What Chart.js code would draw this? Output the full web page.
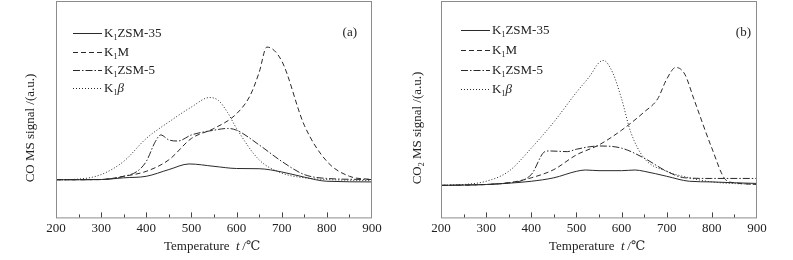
<!DOCTYPE html>
<html>
<head>
<meta charset="utf-8">
<script src="https://cdn.jsdelivr.net/npm/chart.js@4.4.0/dist/chart.umd.min.js"></script>
<style>
  body { margin: 0; background: #fff; width: 793px; height: 260px; overflow: hidden; position: relative; }
  canvas { position: absolute; top: 0; }
</style>
</head>
<body>
<canvas id="chartA" width="393" height="260" style="left:0"></canvas>
<canvas id="chartB" width="400" height="260" style="left:393px"></canvas>
<script>
// x ticks (temperature, °C)
const tempTicks = [200, 300, 400, 500, 600, 700, 800, 900]
const seriesNames = ['ZSM-35', 'M', 'ZSM-5', 'β']

// (a) CO signal, arbitrary units
const coZsm35T = [200, 300, 350, 400, 450, 495, 550, 600, 650, 700, 750, 800, 900]
const coZsm35 = [17.4, 17.5, 18.3, 19.0, 22.1, 24.7, 23.6, 22.6, 22.5, 21.0, 18.6, 16.7, 16.4]
const coMT = [200, 300, 350, 400, 450, 500, 550, 600, 630, 650, 667, 700, 750, 800, 850, 900]
const coM = [17.4, 17.5, 19.0, 21.3, 26.6, 36.5, 41.1, 47.9, 56.3, 67.0, 78.7, 72.3, 42.6, 25.9, 19.0, 17.5]
const coZsm5T = [200, 300, 350, 380, 400, 420, 432, 450, 470, 500, 550, 580, 600, 650, 700, 750, 800, 900]
const coZsm5 = [17.4, 17.5, 19.0, 21.3, 25.9, 35.0, 38.1, 35.8, 35.3, 38.1, 40.3, 41.1, 40.3, 33.5, 25.9, 19.8, 18.0, 17.5]
const coBetaT = [200, 250, 300, 350, 400, 450, 500, 540, 560, 580, 600, 650, 700, 750, 800, 900]
const coBeta = [17.4, 17.7, 19.8, 25.9, 36.5, 44.1, 51.0, 55.4, 54.0, 48.5, 41.1, 26.6, 20.5, 18.3, 17.5, 17.0]

// (b) CO2 signal
const co2Zsm35T = [200, 300, 350, 400, 450, 500, 520, 550, 600, 630, 650, 700, 750, 800, 850, 900]
const co2Zsm35 = [14.8, 15.2, 15.8, 16.7, 18.3, 21.3, 21.9, 21.6, 21.6, 21.9, 21.3, 19.0, 16.7, 16.4, 16.0, 15.7]
const co2MT = [200, 300, 350, 400, 450, 500, 550, 600, 650, 680, 700, 720, 740, 760, 800, 830, 850, 900]
const co2M = [14.8, 15.2, 16.0, 18.3, 22.1, 28.9, 33.5, 40.3, 48.7, 54.8, 63.9, 69.3, 66.2, 54.8, 32.0, 17.5, 16.0, 15.2]
const co2Zsm5T = [200, 350, 400, 430, 440, 480, 500, 550, 600, 650, 700, 740, 800, 900]
const co2Zsm5 = [14.8, 16.0, 19.8, 30.4, 30.7, 30.4, 31.5, 33.0, 32.0, 27.4, 21.3, 18.3, 18.0, 18.0]
const co2BetaT = [200, 250, 300, 350, 400, 450, 500, 530, 550, 560, 580, 600, 620, 650, 700, 750, 800, 900]
const co2Beta = [14.8, 15.2, 16.7, 21.3, 32.0, 44.1, 57.8, 65.4, 71.5, 72.5, 67.0, 54.8, 39.6, 27.4, 21.3, 18.3, 16.4, 15.2]

const SERIF = '"Liberation Serif", "DejaVu Serif", serif'
const dashes = [[], [5, 3], [7, 2, 1.5, 2], [1, 2]]
const lineCol = '#2a2a2a'

const pts = (xs, ys) => xs.map((x, i) => ({ x: x, y: ys[i] }))

const makeSets = (pairs) => pairs.map((p, i) => ({
  label: seriesNames[i],
  data: pts(p[0], p[1]),
  borderColor: lineCol,
  borderWidth: 1,
  borderDash: dashes[i],
  pointRadius: 0,
  cubicInterpolationMode: 'monotone',
  fill: false
}))

// frame, inward ticks, legend and titles
const decor = (panel, yLabelSub, legendX, legendYs, tag, tagRight, yTitleX) => ({
  id: 'decor' + panel,
  afterDraw(chart) {
    const ctx = chart.ctx
    const a = chart.chartArea
    const xs = chart.scales.x
    ctx.save()
    ctx.strokeStyle = '#8c8c8c'
    ctx.lineWidth = 1
    ctx.setLineDash([])
    ctx.strokeRect(a.left + 0.5, a.top + 0.5, a.right - a.left - 1, a.bottom - a.top)
    // inward ticks
    ctx.strokeStyle = '#444'
    for (let t = 250; t < 900; t += 50) {
      const px = Math.round(xs.getPixelForValue(t)) + 0.5
      const len = t % 100 === 0 ? 5 : 3
      ctx.beginPath()
      ctx.moveTo(px, a.bottom)
      ctx.lineTo(px, a.bottom - len)
      ctx.stroke()
    }
    // legend
    ctx.fillStyle = '#222'
    ctx.textBaseline = 'middle'
    seriesNames.forEach((name, i) => {
      const y = legendYs[i] + 0.5
      ctx.strokeStyle = lineCol
      ctx.setLineDash(dashes[i])
      ctx.beginPath()
      ctx.moveTo(legendX, y)
      ctx.lineTo(legendX + 29, y)
      ctx.stroke()
      ctx.setLineDash([])
      let x = legendX + 31
      ctx.font = '13px ' + SERIF
      ctx.fillText('K', x, y)
      x += ctx.measureText('K').width
      ctx.font = '8px ' + SERIF
      ctx.fillText('1', x, y + 4)
      x += ctx.measureText('1').width
      ctx.font = (name === 'β' ? 'italic ' : '') + '13px ' + SERIF
      ctx.fillText(name, x, y)
    })
    ctx.font = '13px ' + SERIF
    ctx.textAlign = 'right'
    ctx.fillText(tag, tagRight, 33)
    // x title
    ctx.textAlign = 'left'
    ctx.textBaseline = 'middle'
    const cx = (a.left + a.right) / 2
    ctx.fillText('Temperature', cx - 50, 247)
    ctx.font = 'italic 13px ' + SERIF
    ctx.fillText('t', cx + 22, 247)
    ctx.font = '13px ' + SERIF
    ctx.fillText(' /℃', cx + 25, 247)
    // y title
    ctx.translate(yTitleX, 128)
    ctx.rotate(-Math.PI / 2)
    ctx.textAlign = 'left'
    const parts = yLabelSub ? ['CO', '2', ' MS signal /(a.u.)'] : ['CO', '', ' MS signal /(a.u.)']
    ctx.font = '13px ' + SERIF
    let w = ctx.measureText(parts[0] + parts[2]).width
    ctx.font = '8px ' + SERIF
    w += ctx.measureText(parts[1]).width
    let x = -w / 2
    ctx.font = '13px ' + SERIF
    ctx.fillText(parts[0], x, 0)
    x += ctx.measureText(parts[0]).width
    ctx.font = '8px ' + SERIF
    ctx.fillText(parts[1], x, 4)
    x += ctx.measureText(parts[1]).width
    ctx.font = '13px ' + SERIF
    ctx.fillText(parts[2], x, 0)
    ctx.restore()
  }
})

const makeChart = (id, sets, pad, plugin) => new Chart(document.getElementById(id), {
  type: 'line',
  data: { datasets: sets },
  options: {
    responsive: false,
    animation: false,
    layout: { padding: pad },
    plugins: { legend: { display: false }, tooltip: { enabled: false } },
    scales: {
      x: {
        type: 'linear', min: 200, max: 900,
        afterBuildTicks: (s) => { s.ticks = tempTicks.map(v => ({ value: v })) },
        grid: { display: false, drawTicks: false },
        border: { display: false },
        ticks: { color: '#222', padding: 3, maxRotation: 0, font: { family: SERIF, size: 13 } }
      },
      y: { display: false, min: 0, max: 100 }
    }
  },
  plugins: [plugin]
})

makeChart('chartA',
  makeSets([[coZsm35T, coZsm35], [coMT, coM], [coZsm5T, coZsm5], [coBetaT, coBeta]]),
  { left: 56, right: 21, top: 1, bottom: 21 },
  decor('A', false, 73, [33, 52, 70, 88], '(a)', 357, 31))

makeChart('chartB',
  makeSets([[co2Zsm35T, co2Zsm35], [co2MT, co2M], [co2Zsm5T, co2Zsm5], [co2BetaT, co2Beta]]),
  { left: 48, right: 36, top: 1, bottom: 21 },
  decor('B', true, 68, [30, 50, 70, 89], '(b)', 358, 25))
</script>
</body>
</html>
